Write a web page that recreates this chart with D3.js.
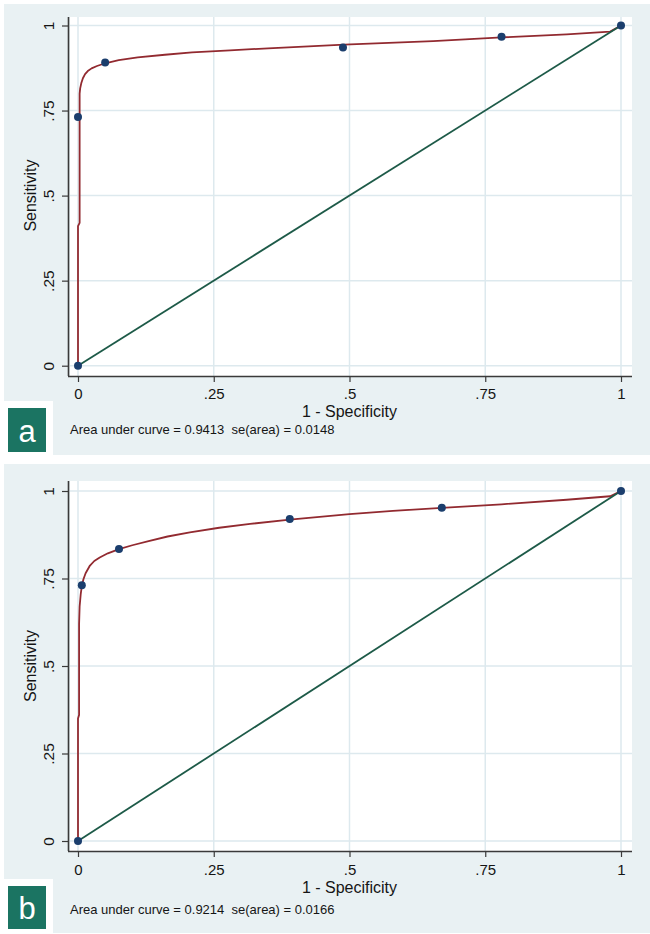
<!DOCTYPE html>
<html>
<head>
<meta charset="utf-8">
<script src="https://cdn.jsdelivr.net/npm/d3@7"></script>
<style>
  html, body { margin: 0; padding: 0; background: #ffffff; }
  svg { display: block; }
  text { font-family: "Liberation Sans", Arial, sans-serif; white-space: pre; }
</style>
</head>
<body>
<svg id="chart" width="650" height="934"></svg>
<script>
// ---------- DATA ----------
const tickValues = [0, 0.25, 0.5, 0.75, 1];
const tickLabels = ["0", ".25", ".5", ".75", "1"];
const panelLetters = ["a", "b"];
const xTitle = "1 - Specificity";
const yTitle = "Sensitivity";
const aucTexts = [
  "Area under curve = 0.9413  se(area) = 0.0148",
  "Area under curve = 0.9214  se(area) = 0.0166"
];
const diagFpr = [0, 1];
const diagTpr = [0, 1];

// Panel a: observed operating points
const aPointFpr = [0, 0, 0.05, 0.488, 0.78, 1];
const aPointTpr = [0, 0.731, 0.891, 0.935, 0.967, 1];
// Panel a: fitted ROC curve
const aCurveFpr = [0, 0, 0.003, 0.003, 0.004, 0.006, 0.009, 0.013, 0.018, 0.025, 0.035, 0.05, 0.075, 0.11, 0.16, 0.21, 0.28, 0.35, 0.49, 0.654, 0.78, 0.9, 0.98, 1];
const aCurveTpr = [0, 0.41, 0.42, 0.80, 0.815, 0.83, 0.845, 0.857, 0.866, 0.874, 0.881, 0.889, 0.898, 0.906, 0.914, 0.921, 0.927, 0.933, 0.944, 0.954, 0.965, 0.974, 0.982, 1];

// Panel b: observed operating points
const bPointFpr = [0, 0.007, 0.0755, 0.39, 0.67, 1];
const bPointTpr = [0, 0.731, 0.834, 0.92, 0.952, 1];
// Panel b: fitted ROC curve
const bCurveFpr = [0, 0, 0.002, 0.002, 0.003, 0.005, 0.007, 0.01, 0.014, 0.022, 0.03, 0.04, 0.055, 0.0755, 0.1, 0.13, 0.165, 0.206, 0.26, 0.317, 0.39, 0.5, 0.58, 0.67, 0.78, 0.9, 0.98, 1];
const bCurveTpr = [0, 0.35, 0.36, 0.62, 0.67, 0.705, 0.728, 0.748, 0.765, 0.787, 0.80, 0.81, 0.822, 0.834, 0.845, 0.857, 0.87, 0.882, 0.895, 0.906, 0.918, 0.934, 0.943, 0.952, 0.962, 0.975, 0.985, 1];

// ---------- STYLE / LAYOUT ----------
const C = {
  bg: "#e9f1f3",
  grid: "#dde9ee",
  axis: "#3a3a3a",
  curve: "#922a30",
  diag: "#1d5a48",
  point: "#1b3e6d",
  box: "#1b7462",
  text: "#151515"
};

const panels = [
  { letter: panelLetters[0], auc: aucTexts[0],
    pFpr: aPointFpr, pTpr: aPointTpr, cFpr: aCurveFpr, cTpr: aCurveTpr,
    bgTop: 4, bgBottom: 455, stripTop: 401,
    plotTop: 17, plotBottom: 376, y1: 25.5, y0: 365.7,
    tickBase: 399, titleBase: 416.5, aucBase: 434, boxTop: 408, boxBottom: 452 },
  { letter: panelLetters[1], auc: aucTexts[1],
    pFpr: bPointFpr, pTpr: bPointTpr, cFpr: bCurveFpr, cTpr: bCurveTpr,
    bgTop: 464, bgBottom: 933, stripTop: 879,
    plotTop: 481, plotBottom: 851, y1: 491, y0: 841,
    tickBase: 874.5, titleBase: 892.5, aucBase: 914, boxTop: 886, boxBottom: 929 }
];

const svg = d3.select("#chart");
const bgLeft = 4, bgRight = 650, stripLeft = 53;
const plotLeft = 70, plotRight = 632;
const x = d3.scaleLinear().domain([0, 1]).range([78, 621]);

panels.forEach(p => {
  const g = svg.append("g");
  const y = d3.scaleLinear().domain([0, 1]).range([p.y0, p.y1]);

  // panel background with bottom-left cut-out
  g.append("path")
    .attr("d", `M${bgLeft},${p.bgTop} H${bgRight} V${p.bgBottom} H${stripLeft} V${p.stripTop} H${bgLeft} Z`)
    .attr("fill", C.bg);

  // plot region
  g.append("rect")
    .attr("x", plotLeft).attr("y", p.plotTop)
    .attr("width", plotRight - plotLeft).attr("height", p.plotBottom - p.plotTop)
    .attr("fill", "#ffffff");

  // grid lines
  g.append("g").selectAll("line").data(tickValues).join("line")
    .attr("x1", d => x(d)).attr("x2", d => x(d))
    .attr("y1", p.plotTop).attr("y2", p.plotBottom)
    .attr("stroke", C.grid).attr("stroke-width", 1.5);
  g.append("g").selectAll("line").data(tickValues).join("line")
    .attr("y1", d => y(d)).attr("y2", d => y(d))
    .attr("x1", plotLeft).attr("x2", plotRight)
    .attr("stroke", C.grid).attr("stroke-width", 1.5);

  // X axis
  const xAxis = d3.axisBottom(x).tickValues(tickValues)
    .tickFormat((d, i) => tickLabels[i]).tickSize(6).tickSizeOuter(0);
  const gx = g.append("g").attr("transform", `translate(0,${p.plotBottom})`).call(xAxis);
  gx.select(".domain").attr("d", `M${plotLeft - 2},0.5H${plotRight}`)
    .attr("stroke", C.axis).attr("stroke-width", 1.6);
  gx.selectAll(".tick line").attr("stroke", C.axis).attr("stroke-width", 1.2);
  gx.selectAll(".tick text").attr("font-size", 15).attr("fill", C.text)
    .attr("dy", null).attr("y", p.tickBase - p.plotBottom);

  // Y axis
  const yAxis = d3.axisLeft(y).tickValues(tickValues)
    .tickFormat((d, i) => tickLabels[i]).tickSize(6).tickSizeOuter(0);
  const gy = g.append("g").attr("transform", `translate(${plotLeft - 2},0)`).call(yAxis);
  gy.select(".domain").attr("d", `M0.5,${p.plotTop}V${p.plotBottom}`)
    .attr("stroke", C.axis).attr("stroke-width", 1.6);
  gy.selectAll(".tick line").attr("stroke", C.axis).attr("stroke-width", 1.2);
  gy.selectAll(".tick text").attr("font-size", 15.5).attr("fill", C.text)
    .attr("x", null).attr("dy", null)
    .attr("text-anchor", "middle").attr("dominant-baseline", "central")
    .attr("transform", "translate(-20,0) rotate(-90)");

  // axis titles
  g.append("text").attr("x", x(0.5)).attr("y", p.titleBase)
    .attr("text-anchor", "middle")
    .attr("font-size", 16).attr("fill", C.text).text(xTitle);
  g.append("text")
    .attr("transform", `translate(30,${(p.y0 + p.y1) / 2}) rotate(-90)`)
    .attr("text-anchor", "middle").attr("dominant-baseline", "central")
    .attr("font-size", 16).attr("fill", C.text).text(yTitle);

  // fitted curve
  const cData = p.cFpr.map((v, i) => [v, p.cTpr[i]]);
  g.append("path").datum(cData)
    .attr("d", d3.line().x(d => x(d[0])).y(d => y(d[1])))
    .attr("fill", "none").attr("stroke", C.curve).attr("stroke-width", 1.8)
    .attr("stroke-linejoin", "round");

  // reference diagonal
  const dData = diagFpr.map((v, i) => [v, diagTpr[i]]);
  g.append("path").datum(dData)
    .attr("d", d3.line().x(d => x(d[0])).y(d => y(d[1])))
    .attr("fill", "none").attr("stroke", C.diag).attr("stroke-width", 1.8);

  // observed points
  const pData = p.pFpr.map((v, i) => [v, p.pTpr[i]]);
  g.append("g").selectAll("circle").data(pData).join("circle")
    .attr("cx", d => x(d[0])).attr("cy", d => y(d[1])).attr("r", 4)
    .attr("fill", C.point);

  // AUC note
  g.append("text").attr("x", 70).attr("y", p.aucBase)
    .attr("font-size", 13).attr("fill", C.text).text(p.auc);

  // panel letter box
  g.append("rect").attr("x", 8).attr("y", p.boxTop)
    .attr("width", 38).attr("height", p.boxBottom - p.boxTop)
    .attr("fill", C.box);
  g.append("text").attr("x", 27).attr("y", (p.boxTop + p.boxBottom) / 2 + 1)
    .attr("text-anchor", "middle").attr("dominant-baseline", "central")
    .attr("font-size", 31).attr("fill", "#ffffff").text(p.letter);
});
</script>
</body>
</html>
